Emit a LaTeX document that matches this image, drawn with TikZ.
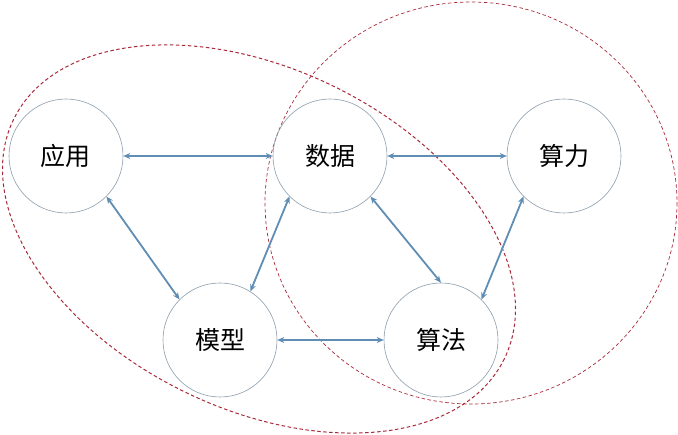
\documentclass[tikz,border=0pt]{standalone}
\usepackage{fontspec}
\newfontfamily\cjk{Noto Sans CJK SC}
\usetikzlibrary{arrows.meta}
\definecolor{ringcol}{HTML}{8C9DAD}
\definecolor{linkcol}{HTML}{5F8DB3}
\definecolor{setcol}{HTML}{A82A3A}

\begin{document}
\begin{tikzpicture}[x=1pt, y=-1pt,
    unit/.style={circle, draw=ringcol, line width=0.6pt, minimum size=114pt,
      inner sep=0pt, font=\cjk\fontsize{25}{29}\selectfont},
    link/.style={draw=linkcol, line width=1.8pt,
      {Stealth[length=7pt,width=6pt]}-{Stealth[length=7pt,width=6pt]}},
    group/.style={draw=setcol, dash pattern=on 3.5pt off 2.5pt}]
  \useasboundingbox (0, 0) rectangle (678, 435);
  \draw[group, line width=1pt, shift={(259, 239)}, rotate=-26]
    (0, 0) ellipse [x radius=273, y radius=170];
  \draw[group, line width=0.7pt] (471, 203) ellipse [x radius=206, y radius=201];
  \node[unit] (app)   at (66, 156)  {应用};
  \node[unit] (data)  at (330, 156) {数据};
  \node[unit] (power) at (564, 156) {算力};
  \node[unit] (model) at (220, 340) {模型};
  \node[unit] (algo)  at (441, 340) {算法};
  \draw[link] (app) -- (data);
  \draw[link] (data) -- (power);
  \draw[link] (model) -- (algo);
  \draw[link] (app.south east) -- (model.north west);
  \draw[link] (model.58) -- (data.south west);
  \draw[link] (data.south east) -- (algo.north);
  \draw[link] (power.south west) -- (algo.north east);
\end{tikzpicture}
\end{document}
